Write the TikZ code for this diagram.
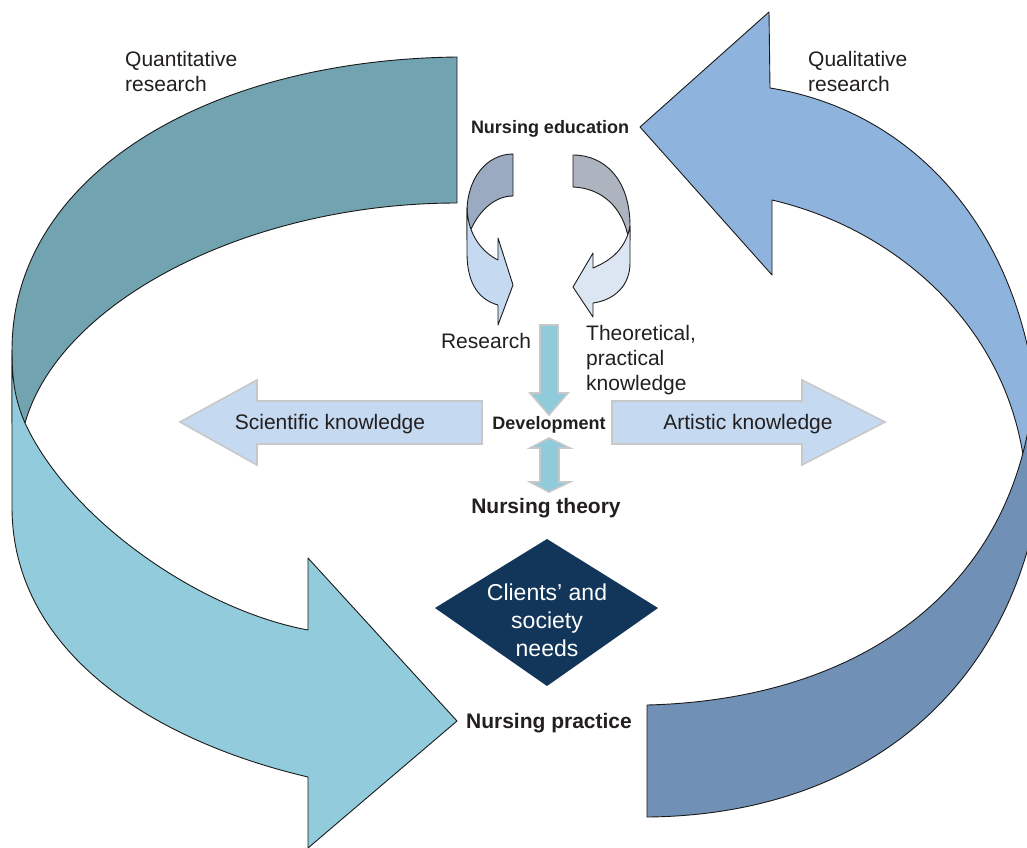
\documentclass[tikz,border=0pt]{standalone}
\usepackage{fontspec}
\setmainfont{Liberation Sans}
\definecolor{quantdark}{HTML}{72A3B1}
\definecolor{quantlight}{HTML}{92CCDC}
\definecolor{quallight}{HTML}{8EB3DC}
\definecolor{qualdark}{HTML}{7090B5}
\definecolor{resdark}{HTML}{9AAAC0}
\definecolor{reslight}{HTML}{C5D9F0}
\definecolor{theodark}{HTML}{ADB4C0}
\definecolor{theolight}{HTML}{DCE6F3}
\definecolor{devfill}{HTML}{8FCBDB}
\definecolor{kfill}{HTML}{C5D9F0}
\definecolor{kedge}{HTML}{C8C8C8}
\definecolor{navy}{HTML}{12365A}
\definecolor{txt}{HTML}{231F20}
\definecolor{edge}{HTML}{1A1A1A}
\begin{document}
\begin{tikzpicture}[x=1pt,y=-1pt,
  band/.style={draw=edge, line width=0.9pt, line join=round},
  kbox/.style={fill=kfill, draw=kedge, line width=1.6pt, line join=miter},
  devarrow/.style={fill=devfill, draw=kedge, line width=1.6pt, line join=miter},
  lbl/.style={font=\fontsize{21}{25}\selectfont, text=txt, inner sep=0pt},
  blbl/.style={font=\bfseries\fontsize{21}{25}\selectfont, text=txt, inner sep=0pt},
  sblbl/.style={font=\bfseries\fontsize{18}{22}\selectfont, text=txt, inner sep=0pt},
  dlbl/.style={font=\fontsize{23}{28}\selectfont, text=white, inner sep=0pt},
]
\useasboundingbox (0,0) rectangle (1027,847);
\fill[white] (0,0) rectangle (1027,847);
\clip (0,0) rectangle (1027,847);

% ---- left big ribbon arrow (quantitative research)
\draw[band, fill=quantdark] (457,57) .. controls (200,60) and (12,180) .. (12,350)
  -- (12,423) -- (25,423) .. controls (60,300) and (250,203) .. (457,203) -- cycle;
\draw[band, fill=quantlight] (12,350) -- (12,507) .. controls (12,650) and (150,740) .. (308,777)
  -- (308,848) -- (457,721) -- (308,558) -- (308,630)
  .. controls (200,610) and (70,520) .. (25,423)
  .. controls (15,400) and (12,380) .. (12,350) -- cycle;

% ---- right big ribbon arrow (qualitative research)
\draw[band, fill=quallight] (640,127) -- (769,12) -- (770,88)
  .. controls (910,110) and (1035,230) .. (1040,450) -- (1025,470)
  .. controls (1010,330) and (900,230) .. (772,200) -- (772,275) -- cycle;
\draw[band, fill=qualdark] (647,705) .. controls (850,700) and (1000,600) .. (1030,420)
  -- (1050,420) -- (1045,440) .. controls (1035,670) and (880,815) .. (647,817) -- cycle;

% ---- small curved arrows
\draw[band, fill=resdark] (513,154) .. controls (487,154) and (467,178) .. (467,212)
  -- (467,240) -- (471,229) .. controls (480,210) and (495,196) .. (513,196) -- cycle;
\draw[band, fill=reslight] (467,208) -- (467,253) .. controls (467,285) and (480,300) .. (498,305)
  -- (498,325) -- (513,285) -- (498,238) -- (498,260)
  .. controls (482,252) and (468,235) .. (467,208) -- cycle;

\draw[band, fill=theodark] (573,155) .. controls (605,155) and (630,180) .. (630,226)
  -- (630,240) -- (627,232) .. controls (620,205) and (600,188) .. (573,187) -- cycle;
\draw[band, fill=theolight] (630,226) -- (630,263) .. controls (630,285) and (615,300) .. (593,303)
  -- (593,317) -- (573,287) -- (593,253) -- (593,268)
  .. controls (612,260) and (626,248) .. (630,226) -- cycle;

% ---- knowledge arrows
\draw[kbox] (180,422) -- (257,380) -- (257,401) -- (482,401) -- (482,444)
  -- (257,444) -- (257,465) -- cycle;
\draw[kbox] (612,401) -- (802,401) -- (802,380) -- (885,422) -- (802,465)
  -- (802,444) -- (612,444) -- cycle;

% ---- development arrows
\draw[devarrow] (540,325) -- (558,325) -- (558,393) -- (568,393) -- (549,415)
  -- (530,393) -- (540,393) -- cycle;
\draw[devarrow] (549,438) -- (570,448) -- (559,448) -- (559,482) -- (570,482)
  -- (549,492) -- (530,482) -- (540,482) -- (540,448) -- (530,448) -- cycle;

% ---- diamond
\fill[navy] (435,608) -- (547,539) -- (658,608) -- (547,686) -- cycle;

% ---- labels
\node[lbl, anchor=west, align=left] (quant) at (125,71) {Quantitative\\research};
\node[lbl, anchor=west, align=left] (qual) at (808,71) {Qualitative\\research};
\node[sblbl] (educ) at (550,129) {Nursing education};
\node[lbl] (res) at (486,341) {Research};
\node[lbl, anchor=west, align=left] (theo) at (586,360) {Theoretical,\\practical\\knowledge};
\node[lbl] (sci) at (330,424) {Scientific knowledge};
\node[lbl] (art) at (748,424) {Artistic knowledge};
\node[sblbl] (dev) at (549,425) {Development};
\node[blbl] (theory) at (546,508) {Nursing theory};
\node[blbl] (practice) at (549,723) {Nursing practice};
\node[dlbl, align=center] (needs) at (547,620) {Clients’ and\\society\\needs};
\end{tikzpicture}
\end{document}
